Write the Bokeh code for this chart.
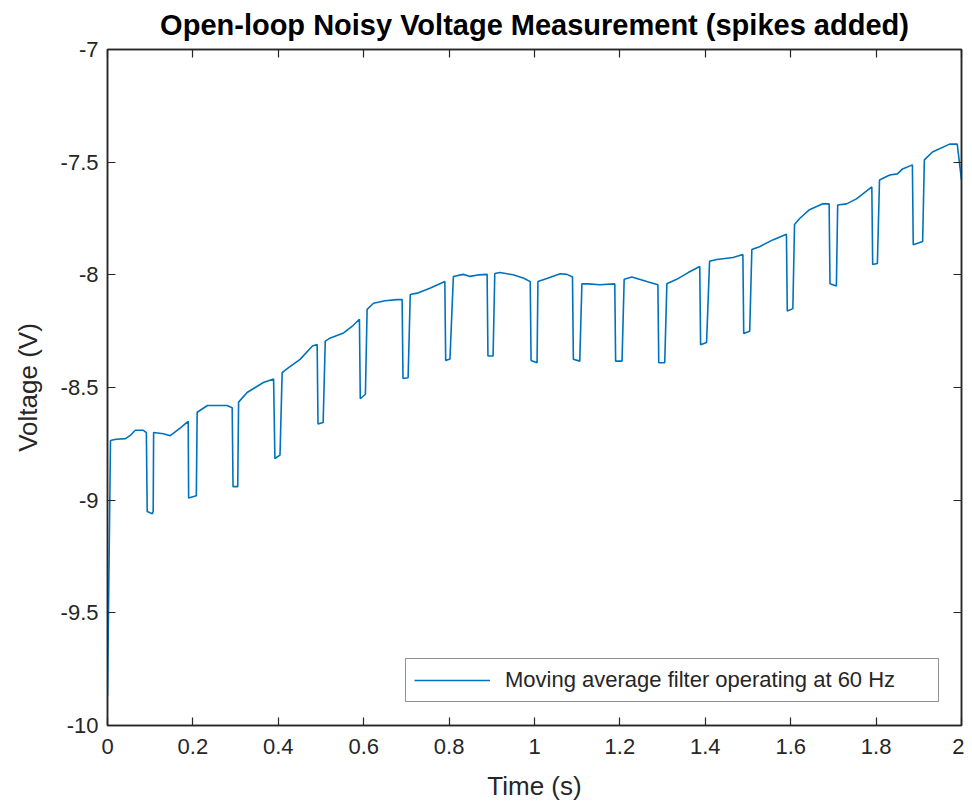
from bokeh.plotting import figure
from bokeh.models import LinearAxis, FixedTicker, Legend, LegendItem
from bokeh.embed import file_html
from bokeh.resources import INLINE

# ---- data ----
time_s = [0.000, 0.007, 0.020, 0.042, 0.055, 0.065, 0.084, 0.091, 0.093, 0.105, 0.107, 0.108,
          0.131, 0.147, 0.170, 0.189, 0.190, 0.208, 0.210, 0.234, 0.280, 0.292, 0.294, 0.305,
          0.307, 0.327, 0.365, 0.389, 0.392, 0.404, 0.409, 0.424, 0.451, 0.480, 0.491, 0.493,
          0.505, 0.510, 0.522, 0.553, 0.575, 0.590, 0.592, 0.604, 0.608, 0.623, 0.650, 0.678,
          0.690, 0.692, 0.704, 0.709, 0.728, 0.755, 0.790, 0.792, 0.802, 0.810, 0.833, 0.849,
          0.870, 0.889, 0.891, 0.903, 0.907, 0.919, 0.950, 0.975, 0.990, 0.992, 1.006, 1.008,
          1.029, 1.060, 1.076, 1.089, 1.091, 1.106, 1.111, 1.126, 1.153, 1.188, 1.190, 1.205,
          1.210, 1.228, 1.263, 1.289, 1.291, 1.305, 1.310, 1.333, 1.360, 1.387, 1.389, 1.403,
          1.410, 1.427, 1.465, 1.488, 1.490, 1.504, 1.509, 1.527, 1.558, 1.590, 1.592, 1.605,
          1.609, 1.621, 1.644, 1.675, 1.690, 1.692, 1.707, 1.710, 1.731, 1.754, 1.790, 1.792,
          1.803, 1.808, 1.832, 1.850, 1.862, 1.885, 1.887, 1.909, 1.913, 1.932, 1.972, 1.990,
          2.000]
voltage = [-9.870, -8.735, -8.730, -8.727, -8.710, -8.690, -8.690, -8.700, -9.050, -9.060, -9.050, -8.700,
           -8.705, -8.714, -8.680, -8.650, -8.990, -8.980, -8.610, -8.580, -8.580, -8.590, -8.940, -8.940,
           -8.565, -8.522, -8.478, -8.462, -8.815, -8.800, -8.434, -8.412, -8.375, -8.316, -8.309, -8.662,
           -8.655, -8.294, -8.280, -8.258, -8.225, -8.197, -8.550, -8.530, -8.153, -8.126, -8.115, -8.110,
           -8.110, -8.460, -8.457, -8.087, -8.080, -8.060, -8.030, -8.380, -8.374, -8.007, -7.998, -8.007,
           -8.000, -7.998, -8.360, -8.360, -7.994, -7.990, -8.000, -8.015, -8.030, -8.380, -8.390, -8.030,
           -8.016, -7.995, -7.998, -8.010, -8.375, -8.383, -8.040, -8.040, -8.044, -8.040, -8.383, -8.383,
           -8.020, -8.010, -8.030, -8.044, -8.390, -8.390, -8.040, -8.020, -7.990, -7.963, -8.310, -8.300,
           -7.940, -7.932, -7.923, -7.910, -8.260, -8.250, -7.888, -7.875, -7.845, -7.820, -8.160, -8.150,
           -7.777, -7.750, -7.711, -7.685, -7.685, -8.040, -8.050, -7.690, -7.685, -7.663, -7.610, -7.954,
           -7.950, -7.579, -7.557, -7.552, -7.530, -7.512, -7.866, -7.852, -7.490, -7.455, -7.420, -7.420,
           -7.580]

x_ticks = [0, 0.2, 0.4, 0.6, 0.8, 1.0, 1.2, 1.4, 1.6, 1.8, 2.0]
x_tick_labels = ["0", "0.2", "0.4", "0.6", "0.8", "1", "1.2", "1.4", "1.6", "1.8", "2"]
y_ticks = [-10, -9.5, -9, -8.5, -8, -7.5, -7]
y_tick_labels = ["-10", "-9.5", "-9", "-8.5", "-8", "-7.5", "-7"]

title_text = "Open-loop Noisy Voltage Measurement (spikes added)"
x_label = "Time (s)"
y_label = "Voltage (V)"
legend_label = "Moving average filter operating at 60 Hz"

AX = "#262626"
LINE = "#0072BD"
FONT = "Liberation Sans"

p = figure(width=964, height=795, x_range=(0, 2), y_range=(-10, -7),
           output_backend="svg", toolbar_location=None,
           min_border_left=107, min_border_right=3, min_border_top=49, min_border_bottom=20)
p.frame_width = 854
p.frame_height = 676

p.title.text = title_text
p.title.align = "center"
p.title.vertical_align = "top"
p.title.text_font = FONT
p.title.text_font_size = "29px"
p.title.text_font_style = "bold"
p.title.text_color = "#000000"
p.title.standoff = 13

p.xgrid.visible = False
p.ygrid.visible = False
p.outline_line_color = AX
p.outline_line_width = 1.5
p.background_fill_color = "white"
p.border_fill_color = "white"

def style_axis(ax, ticks, labels, show_labels):
    ax.ticker = FixedTicker(ticks=ticks)
    ax.major_label_overrides = {t: l for t, l in zip(ticks, labels)}
    ax.major_tick_in = 8
    ax.major_tick_out = 0
    ax.minor_tick_line_color = None
    ax.major_tick_line_color = AX
    ax.axis_line_color = AX
    ax.axis_line_width = 1.5
    ax.major_tick_line_width = 1.2
    ax.major_label_text_font = FONT
    ax.major_label_text_font_size = "22px" if show_labels else "0px"
    ax.major_label_text_color = AX
    ax.axis_label_text_font = FONT
    ax.axis_label_text_font_size = "26px"
    ax.axis_label_text_font_style = "normal"
    ax.axis_label_text_color = AX
    if not show_labels:
        ax.major_label_standoff = 0
        ax.major_label_text_alpha = 0

style_axis(p.xaxis[0], x_ticks, x_tick_labels, True)
style_axis(p.yaxis[0], y_ticks, y_tick_labels, True)
p.xaxis[0].axis_label = x_label
p.yaxis[0].axis_label = y_label
p.xaxis[0].major_label_standoff = 13
p.yaxis[0].major_label_standoff = 9
p.xaxis[0].axis_label_standoff = 14
p.yaxis[0].axis_label_standoff = 15

top_ax = LinearAxis()
style_axis(top_ax, x_ticks, x_tick_labels, False)
p.add_layout(top_ax, "above")
right_ax = LinearAxis()
style_axis(right_ax, y_ticks, y_tick_labels, False)
p.add_layout(right_ax, "right")

r = p.line(time_s, voltage, line_color=LINE, line_width=1.6)

legend = Legend(items=[LegendItem(label=legend_label, renderers=[r])],
                location=(298, 23))
legend.label_text_font = FONT
legend.label_text_font_size = "22px"
legend.label_text_color = AX
legend.border_line_color = AX
legend.border_line_width = 1.5
legend.background_fill_alpha = 1
legend.glyph_width = 76
legend.label_standoff = 15
legend.label_width = 425
legend.padding = 8
legend.margin = 0
p.add_layout(legend, "center")

open("out.html", "w").write(file_html(p, INLINE))
